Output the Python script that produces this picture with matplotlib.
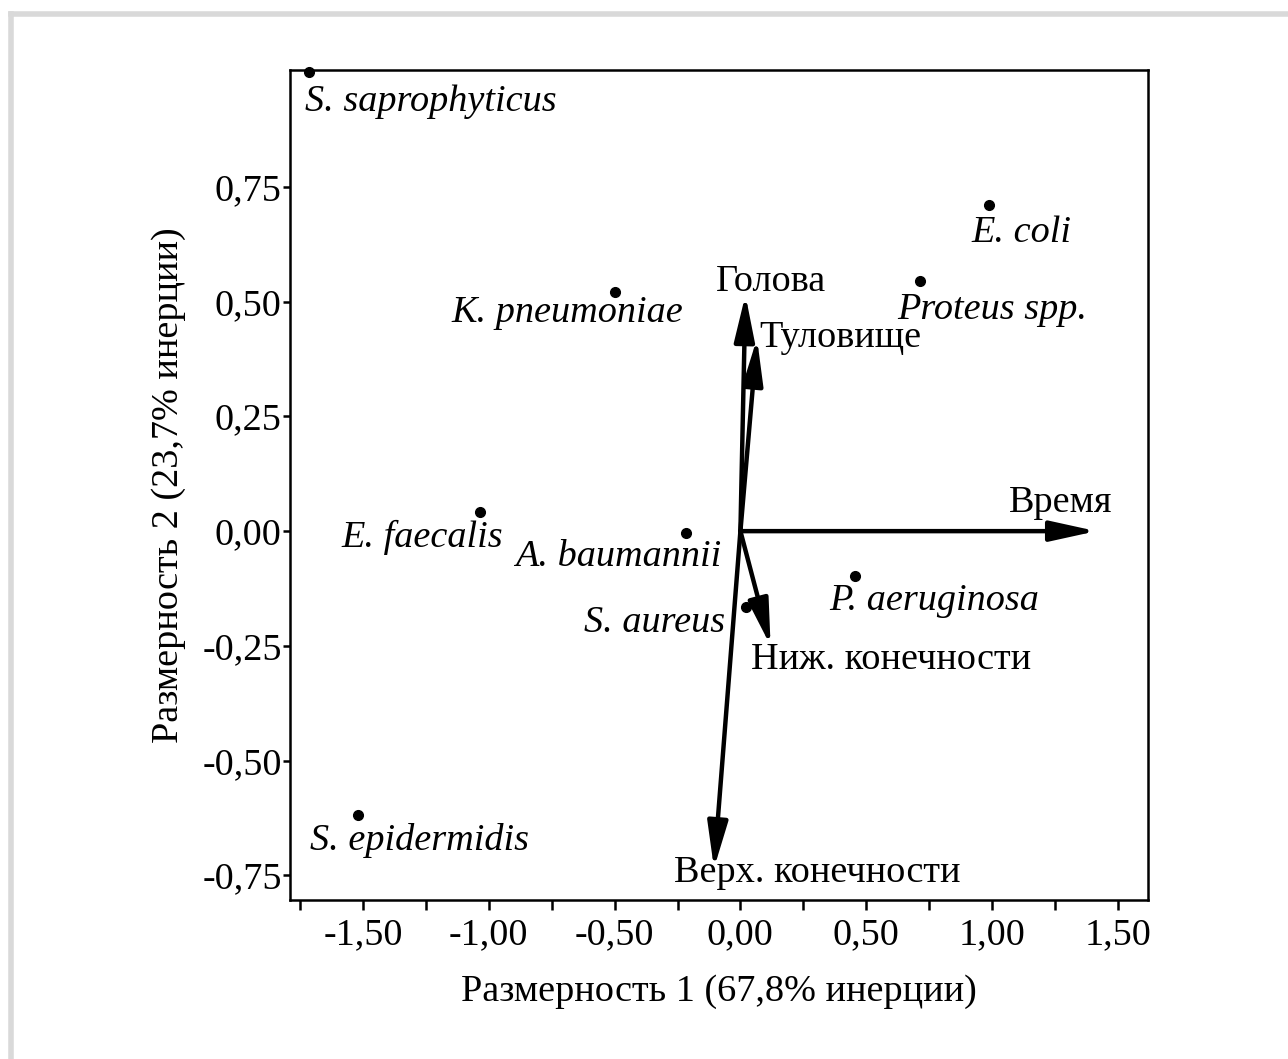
import matplotlib.pyplot as plt
from matplotlib.lines import Line2D
from matplotlib.ticker import MultipleLocator, FuncFormatter

plt.rcParams['font.family'] = ['Liberation Serif', 'DejaVu Serif']

# bacteria (row points)
species = ['S. saprophyticus', 'E. coli', 'Proteus spp.', 'K. pneumoniae',
           'E. faecalis', 'A. baumannii', 'P. aeruginosa', 'S. aureus',
           'S. epidermidis']
sp_x = [-1.715, 0.99, 0.713, -0.499, -1.035, -0.217, 0.454, 0.021, -1.52]
sp_y = [1.0, 0.711, 0.545, 0.521, 0.041, -0.004, -0.098, -0.166, -0.619]

# localisation / time (column vectors)
vectors = ['Время', 'Голова', 'Туловище', 'Ниж. конечности', 'Верх. конечности']
vec_x = [1.415, 0.02, 0.066, 0.12, -0.105]
vec_y = [0.0, 0.515, 0.42, -0.25, -0.735]

# label offsets in pixels (dx, dy, ha)
sp_off = [(-4, -29, 'left'), (32, -28, 'center'), (-23, -29, 'left'),
          (68, -21, 'right'), (23, -25, 'right'), (36, -24, 'right'),
          (-25, -25, 'left'), (-21, -15, 'right'), (-48, -25, 'left')]
vec_off = [(16, 28, 'right'), (26, 13, 'center'), (2, 1, 'left'),
           (-20, -14, 'left'), (-40, -4, 'left')]

fig = plt.figure(figsize=(12.88, 10.59), dpi=100)
ax = fig.add_axes([0.2252, 0.1501, 0.6661, 0.7838])

fs = 27.5

for i in range(len(vectors)):
    ax.annotate('', xy=(vec_x[i], vec_y[i]), xytext=(0, 0),
                arrowprops=dict(arrowstyle='-|>,head_length=1.0,head_width=0.22',
                                lw=3.2, color='black', shrinkA=0, shrinkB=0,
                                mutation_scale=28))
    dx, dy, ha = vec_off[i]
    ax.annotate(vectors[i], (vec_x[i], vec_y[i]), xytext=(dx, dy),
                textcoords='offset pixels', ha=ha, va='center', fontsize=fs)

ax.plot(sp_x, sp_y, 'o', color='black', markersize=7, clip_on=False, zorder=5)
for i in range(len(species)):
    dx, dy, ha = sp_off[i]
    ax.annotate(species[i], (sp_x[i], sp_y[i]), xytext=(dx, dy),
                textcoords='offset pixels', ha=ha, va='center', fontsize=fs,
                style='italic')

ax.set_xlim(-1.79, 1.62)
ax.set_ylim(-0.804, 1.005)

ax.xaxis.set_major_locator(MultipleLocator(0.5))
ax.xaxis.set_minor_locator(MultipleLocator(0.25))
ax.set_yticks([-0.75, -0.5, -0.25, 0, 0.25, 0.5, 0.75])
fmt = FuncFormatter(lambda v, p: ('%.2f' % v).replace('.', ',').replace('-0,00', '0,00'))
ax.xaxis.set_major_formatter(fmt)
ax.yaxis.set_major_formatter(fmt)

ax.tick_params(axis='both', which='both', direction='out', width=1.8,
               labelsize=fs, color='black')
ax.tick_params(axis='x', which='both', length=7, pad=6)
ax.tick_params(axis='y', which='both', length=5, pad=1)
for s in ax.spines.values():
    s.set_linewidth(1.8)

ax.set_xlabel('Размерность 1 (67,8% инерции)', fontsize=fs, labelpad=16)
ax.set_ylabel('Размерность 2 (23,7% инерции)', fontsize=fs, labelpad=12)

# light grey frame on the top and left edges of the picture
fig.add_artist(Line2D([0.0082, 1.0], [0.9872, 0.9872], color='#d9d9d9', lw=4,
                      transform=fig.transFigure))
fig.add_artist(Line2D([0.0082, 0.0082], [0.0, 0.9872], color='#d9d9d9', lw=4,
                      transform=fig.transFigure))

plt.savefig('out.png', dpi=100)
